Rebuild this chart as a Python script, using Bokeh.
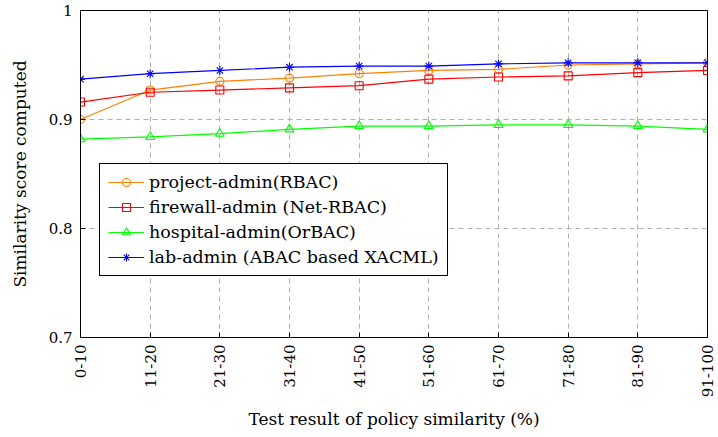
import math
from bokeh.plotting import figure
from bokeh.models import Range1d, FixedTicker
from bokeh.embed import file_html
from bokeh.resources import INLINE

# ---- data ----
categories = ["0-10", "11-20", "21-30", "31-40", "41-50",
              "51-60", "61-70", "71-80", "81-90", "91-100"]
project_admin = [0.900, 0.927, 0.935, 0.938, 0.942, 0.945, 0.946, 0.950, 0.951, 0.952]
firewall_admin = [0.916, 0.925, 0.927, 0.929, 0.931, 0.937, 0.939, 0.940, 0.943, 0.945]
hospital_admin = [0.882, 0.884, 0.887, 0.891, 0.894, 0.894, 0.895, 0.895, 0.894, 0.891]
lab_admin = [0.937, 0.942, 0.945, 0.948, 0.949, 0.949, 0.951, 0.952, 0.952, 0.952]
series_labels = ["project-admin(RBAC)", "firewall-admin (Net-RBAC)",
                 "hospital-admin(OrBAC)", "lab-admin (ABAC based XACML)"]
y_ticks = [0.7, 0.8, 0.9, 1.0]
y_tick_labels = ["0.7", "0.8", "0.9", "1"]

FONT = "DejaVu Serif"
x = list(range(len(categories)))

p = figure(width=716, height=433, output_backend="svg", toolbar_location=None,
           x_range=Range1d(0, len(categories) - 1), y_range=Range1d(0.7, 1.0),
           min_border_left=80, min_border_right=9, min_border_top=10,
           min_border_bottom=96)
p.background_fill_color = "white"
p.border_fill_color = "white"
p.outline_line_color = "black"
p.outline_line_width = 1
p.outline_line_alpha = 1

styles = [
    ("#ff8000", "circle", 8, project_admin),
    ("#ff0000", "square", 8, firewall_admin),
    ("#00ff00", "triangle", 9, hospital_admin),
    ("#0000ff", "asterisk", 9, lab_admin),
]
for (color, marker, size, vals), label in zip(styles, series_labels):
    p.line(x, vals, line_color=color, line_width=1.2, legend_label=label)
    p.scatter(x, vals, marker=marker, size=size, line_color=color,
              fill_color=None, line_width=1.1, legend_label=label)

# axes
p.xaxis.ticker = FixedTicker(ticks=x, minor_ticks=[])
p.xaxis.major_label_overrides = {i: c for i, c in zip(x, categories)}
p.xaxis.major_label_orientation = math.pi / 2
p.yaxis.ticker = FixedTicker(ticks=y_ticks, minor_ticks=[])
p.yaxis.major_label_overrides = {t: l for t, l in zip(y_ticks, y_tick_labels)}

for ax in (p.xaxis[0], p.yaxis[0]):
    ax.axis_line_color = "black"
    ax.major_tick_in = 5
    ax.major_tick_out = 0
    ax.major_tick_line_color = "black"
    ax.minor_tick_line_color = None
    ax.major_label_text_font = FONT
    ax.major_label_text_font_size = "15px"
    ax.major_label_text_color = "black"
    ax.major_label_standoff = 8
    ax.axis_label_text_font = FONT
    ax.axis_label_text_font_size = "17px"
    ax.axis_label_text_font_style = "normal"
    ax.axis_label_text_color = "black"

p.xaxis.axis_label = "Test result of policy similarity (%)"
p.yaxis.axis_label = "Similarity score computed"
p.xaxis.major_label_standoff = 7
p.xaxis.axis_label_standoff = 9
p.yaxis.axis_label_standoff = 16

for g in (p.xgrid[0], p.ygrid[0]):
    g.grid_line_color = "#b0b0b0"
    g.grid_line_dash = "5 4"
    g.grid_line_width = 1

# legend
lg = p.legend[0]
lg.location = (19, 61)
lg.label_text_font = FONT
lg.label_text_font_size = "17.5px"
lg.label_text_color = "black"
lg.glyph_width = 36
lg.glyph_height = 20
lg.label_height = 20
lg.label_standoff = 5
lg.padding = 8
lg.spacing = 5
lg.margin = 0
lg.border_line_color = "black"
lg.border_line_width = 1
lg.border_line_alpha = 1
lg.background_fill_alpha = 1

open("out.html", "w").write(file_html(p, INLINE))
